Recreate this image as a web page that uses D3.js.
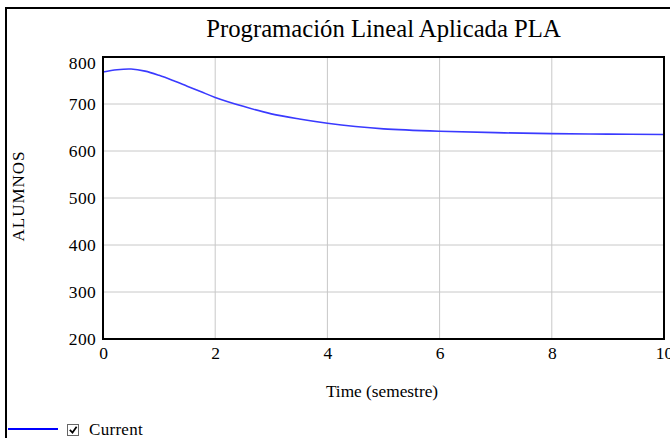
<!DOCTYPE html>
<html><head><meta charset="utf-8">
<script src="https://cdn.jsdelivr.net/npm/d3@7"></script>
<style>body{margin:0;background:#fff}svg{display:block}</style>
</head><body><svg id="c" width="670" height="438" font-family="'Liberation Serif', 'Times New Roman', 'DejaVu Serif', serif"></svg>
<script>
const title = "Programación Lineal Aplicada PLA";
const xLabel = "Time (semestre)";
const yLabel = "ALUMNOS";
const seriesName = "Current";
const time =     [0,   0.25, 0.5,   0.75, 1,   1.25, 1.5, 1.75, 2,   2.5, 3,   3.5, 4,   4.5, 5,   6,   7,   8,   9,   10];
const alumnos =  [768, 773,  774.5, 770,  761, 750,  738, 726,  714, 695, 679, 668, 659, 652, 647, 642, 639, 637, 636, 635];
const xTicks = [0, 2, 4, 6, 8, 10];
const yTicks = [200, 300, 400, 500, 600, 700, 800];
const FF = "'Liberation Serif', 'Times New Roman', 'DejaVu Serif', serif";

const svg = d3.select("#c");
const L = 103, R = 664, T = 57, B = 339;
const x = d3.scaleLinear().domain([0, 10]).range([L, R]);
const y = d3.scaleLinear().domain([200, 800]).range([B, T]);

// outer frame
svg.append("rect").attr("x", 6).attr("y", 8).attr("width", 700).attr("height", 500)
  .attr("fill", "none").attr("stroke", "#000").attr("stroke-width", 2);

svg.append("text").attr("x", 383.5).attr("y", 37).attr("text-anchor", "middle")
  .attr("font-family", FF).attr("font-size", 24.7).text(title);

// grid
svg.append("g").selectAll("line").data(yTicks.slice(1, -1)).join("line")
  .attr("x1", L).attr("x2", R).attr("y1", d => y(d)).attr("y2", d => y(d))
  .attr("stroke", "#c8c8c8").attr("stroke-width", 1);
svg.append("g").selectAll("line").data(xTicks.slice(1, -1)).join("line")
  .attr("y1", T).attr("y2", B).attr("x1", d => x(d)).attr("x2", d => x(d))
  .attr("stroke", "#c8c8c8").attr("stroke-width", 1);

// axes labels via d3 axes
const ya = svg.append("g").attr("transform", `translate(${L},0)`)
  .call(d3.axisLeft(y).tickValues(yTicks).tickSize(0).tickPadding(7));
ya.attr("font-family", FF);
ya.select(".domain").remove();
ya.selectAll("text").attr("font-size", 17.5).attr("letter-spacing", 0.3)
  .attr("fill", "#000").attr("dy", d => d === 800 ? "0.68em" : "0.3em");
const xa = svg.append("g").attr("transform", `translate(0,${B})`)
  .call(d3.axisBottom(x).tickValues(xTicks).tickSize(0).tickPadding(8));
xa.attr("font-family", FF);
xa.select(".domain").remove();
xa.selectAll("text").attr("font-size", 17.5).attr("fill", "#000");

// line
svg.append("path").datum(time.map((t, i) => [t, alumnos[i]]))
  .attr("fill", "none").attr("stroke", "#3a3aff").attr("stroke-width", 1.6)
  .attr("d", d3.line().x(d => x(d[0])).y(d => y(d[1])).curve(d3.curveCatmullRom));

// plot frame
svg.append("rect").attr("x", L).attr("y", T).attr("width", R - L).attr("height", B - T)
  .attr("fill", "none").attr("stroke", "#000").attr("stroke-width", 2);

svg.append("text").attr("x", 382).attr("y", 397).attr("text-anchor", "middle")
  .attr("font-family", FF).attr("font-size", 17.3).text(xLabel);
svg.append("text").attr("transform", "translate(24,196) rotate(-90)").attr("text-anchor", "middle")
  .attr("font-family", FF).attr("font-size", 17).attr("letter-spacing", 1).text(yLabel);

// legend
svg.append("line").attr("x1", 8).attr("x2", 58).attr("y1", 429).attr("y2", 429)
  .attr("stroke", "#0000ff").attr("stroke-width", 2);
svg.append("rect").attr("x", 67.5).attr("y", 424.5).attr("width", 11).attr("height", 11)
  .attr("fill", "#fff").attr("stroke", "#666").attr("stroke-width", 1);
svg.append("path").attr("d", "M69.8,429.8 L72.5,432.6 L76.6,426.8").attr("fill", "none")
  .attr("stroke", "#000").attr("stroke-width", 1.7);
svg.append("text").attr("x", 89).attr("y", 434.5).attr("font-family", FF).attr("font-size", 17)
  .attr("letter-spacing", 0.3).text(seriesName);
</script></body></html>
